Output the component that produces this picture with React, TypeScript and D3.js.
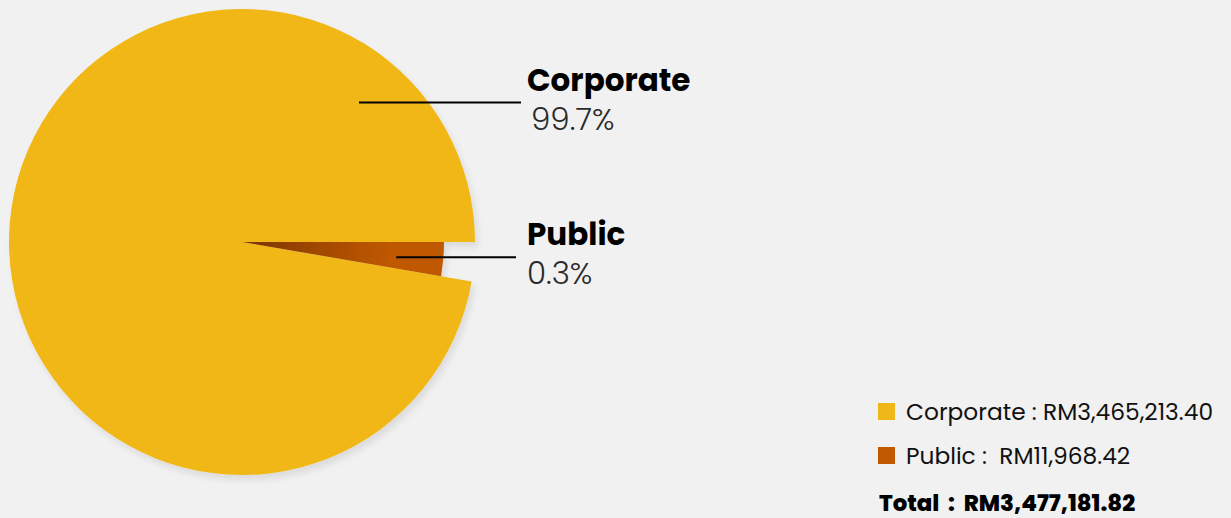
import React, { useEffect, useRef } from 'react';
import * as d3 from 'd3';

// data
const categories = ['Corporate', 'Public'];
const amounts = [3465213.4, 11968.42];
const percentLabels = ['99.7%', '0.3%'];
const legendAmounts = ['RM3,465,213.40', 'RM11,968.42'];
const totalLabel = 'RM3,477,181.82';
const colors = ['#F0B719', '#C05900'];

const W = 1231;
const H = 518;
const FONT = 'Poppins, Inter, "Noto Sans", sans-serif';

/**
 * Pie chart of RM amounts by customer type
 */
const App: React.FC = () => {
  const ref = useRef<SVGSVGElement>(null);

  useEffect(() => {
    document.body.style.margin = '0';
    if (!ref.current) return;

    const svg = d3.select(ref.current);
    svg.selectAll('*').remove();

    svg.append('rect').attr('width', W).attr('height', H).attr('fill', '#F1F1F1');

    const cx = 242;
    const cy = 242;
    const radius = 233;
    const minSliceDeg = 10; // tiny slices still get a visible wedge

    const defs = svg.append('defs');
    const shadow = defs.append('filter').attr('id', 'pie-shadow')
      .attr('x', '-10%').attr('y', '-10%').attr('width', '120%').attr('height', '120%');
    shadow.append('feDropShadow')
      .attr('dx', 3).attr('dy', 5).attr('stdDeviation', 3)
      .attr('flood-color', '#000').attr('flood-opacity', 0.09);

    const grad = defs.append('radialGradient').attr('id', 'public-grad')
      .attr('gradientUnits', 'userSpaceOnUse')
      .attr('cx', 0).attr('cy', 0).attr('r', radius * 0.867);
    grad.append('stop').attr('offset', '0%').attr('stop-color', '#7a3400');
    grad.append('stop').attr('offset', '45%').attr('stop-color', '#a84b00');
    grad.append('stop').attr('offset', '75%').attr('stop-color', colors[1]);
    grad.append('stop').attr('offset', '100%').attr('stop-color', colors[1]);

    const total = d3.sum(amounts);
    const minShare = minSliceDeg / 360;
    const data = categories.map((name, i) => ({
      name,
      i,
      value: amounts[i],
      weight: Math.max(amounts[i] / total, minShare),
    }));

    const pie = d3.pie<typeof data[number]>()
      .value(d => d.weight)
      .sort((a, b) => a.value - b.value)
      .startAngle(Math.PI / 2)
      .endAngle(Math.PI / 2 + 2 * Math.PI);

    const arcs = pie(data);
    const outer = (i: number) => (i === 0 ? radius : radius * 0.867);

    const g = svg.append('g')
      .attr('transform', `translate(${cx},${cy})`)
      .attr('filter', 'url(#pie-shadow)');

    const arc = d3.arc<d3.PieArcDatum<typeof data[number]>>()
      .innerRadius(0)
      .outerRadius(d => outer(d.data.i));

    g.selectAll('path')
      .data(arcs)
      .join('path')
      .attr('d', arc)
      .attr('fill', d => (d.data.i === 1 ? 'url(#public-grad)' : colors[d.data.i]));

    // labels with leader lines
    const labelLayout = [
      { angleDeg: -50, r: 182, lineEnd: 521 },
      { angleDeg: 5.6, r: 155, lineEnd: 516 },
    ];
    const textX = 527;

    arcs.forEach(a => {
      const i = a.data.i;
      const lay = labelLayout[i];
      const screenAngle = (lay.angleDeg * Math.PI) / 180;
      const x0 = cx + lay.r * Math.cos(screenAngle);
      const y0 = cy + lay.r * Math.sin(screenAngle);

      svg.append('line')
        .attr('x1', x0).attr('y1', y0)
        .attr('x2', lay.lineEnd).attr('y2', y0)
        .attr('stroke', '#000').attr('stroke-width', 2);

      svg.append('text')
        .attr('x', textX).attr('y', y0 - 12)
        .attr('font-family', FONT).attr('font-weight', 700)
        .attr('font-size', 31).attr('fill', '#000')
        .text(a.data.name);

      svg.append('text')
        .attr('x', textX + (i === 0 ? 4 : 0)).attr('y', y0 + 27)
        .attr('font-family', FONT).attr('font-weight', 300)
        .attr('font-size', 31).attr('fill', '#2a2a2a')
        .text(percentLabels[i]);
    });

    // legend
    const legend = svg.append('g').attr('transform', 'translate(878,403)');
    categories.forEach((name, i) => {
      const row = legend.append('g').attr('transform', `translate(0,${i * 44})`);
      row.append('rect').attr('width', 17).attr('height', 17).attr('fill', colors[i]);
      row.append('text')
        .attr('x', 28).attr('y', 17)
        .attr('font-family', FONT).attr('font-size', 23.3).attr('fill', '#111')
        .attr('xml:space', 'preserve')
        .text(i === 0 ? `${name} : ${legendAmounts[i]}` : `${name} :  ${legendAmounts[i]}`);
    });
    legend.append('text')
      .attr('x', 1).attr('y', 108)
      .attr('font-family', FONT).attr('font-weight', 800)
      .attr('font-size', 22.8).attr('fill', '#000')
      .attr('xml:space', 'preserve')
      .text(`Total  :  ${totalLabel}`);
  }, []);

  return <svg ref={ref} width={W} height={H} style={{ display: 'block' }} />;
};

export default App;
